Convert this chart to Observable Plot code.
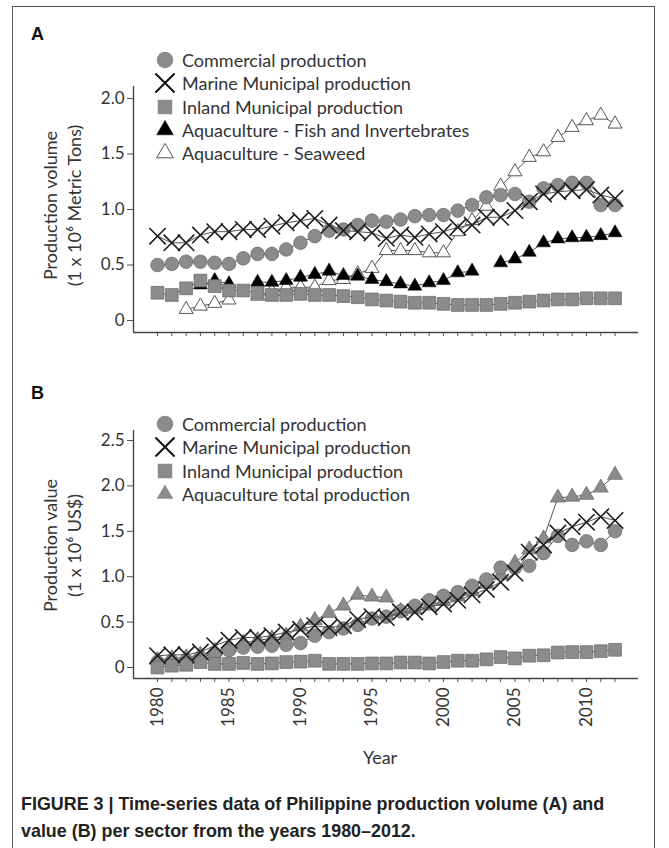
<!DOCTYPE html>
<html><head><meta charset="utf-8">
<script src="https://cdn.jsdelivr.net/npm/d3@7"></script>
<script src="https://cdn.jsdelivr.net/npm/@observablehq/plot@0.6"></script>
<style>
body{margin:0;background:#fff;}
#root{position:relative;width:669px;height:848px;overflow:hidden;font-family:Lato,sans-serif;background:#fff;}
.frame{position:absolute;left:12px;top:6px;width:643px;height:900px;border:1.5px solid #555;box-sizing:border-box;}
.plotA,.plotB{position:absolute;left:0;}
.plotA{top:40px;} .plotB{top:360px;}
.panel{position:absolute;left:31px;font:bold 18px "Liberation Sans",Arial,sans-serif;color:#111;line-height:1;}
.legrow{position:absolute;left:154px;height:22px;display:flex;align-items:center;font:18px Lato,sans-serif;color:#333;white-space:nowrap;}
.legrow svg{width:22px;height:22px;margin-right:6px;overflow:visible;}
.caption{position:absolute;left:21px;top:791px;font:bold 17.9px "Liberation Sans Narrow","Liberation Sans",Arial,sans-serif;line-height:27px;white-space:nowrap;color:#222;}
</style></head>
<body><div id="root"><div class="frame"></div></div>
<script>
// ---------- data ----------
const years = [1980,1981,1982,1983,1984,1985,1986,1987,1988,1989,1990,1991,1992,1993,1994,1995,1996,1997,1998,1999,2000,2001,2002,2003,2004,2005,2006,2007,2008,2009,2010,2011,2012];
const xTickLabels = [1980,1985,1990,1995,2000,2005,2010];
const yTicksA = [0,0.5,1,1.5,2];
const yTicksB = [0,0.5,1,1.5,2,2.5];

// Panel A: production volume (1 x 10^6 metric tons)
const volCommercial = [0.50,0.51,0.53,0.53,0.52,0.51, 0.56,0.60,0.60,0.64,0.70, 0.76,0.81,0.82,0.86,0.90, 0.89,0.91,0.94,0.95,0.95, 0.99,1.04,1.11,1.13,1.14, 1.07,1.19,1.22,1.24,1.24, 1.04,1.04];
const volMarine = [0.76,0.70,0.70,0.77,0.80,0.80, 0.82,0.82,0.85,0.88,0.90, 0.92,0.86,0.81,0.80,0.79, 0.74,0.77,0.75,0.78,0.80, 0.84,0.86,0.93,0.93,0.99, 1.07,1.14,1.16,1.17,1.18, 1.13,1.10];
const volInland = [0.25,0.23,0.29,0.36,0.31,0.27, 0.27,0.25,0.23,0.23,0.24, 0.23,0.23,0.22,0.21,0.19, 0.18,0.17,0.16,0.16,0.15, 0.14,0.14,0.14,0.15,0.16, 0.17,0.18,0.19,0.19,0.20, 0.20,0.20];
const volAquaFish = [null,null,null,0.32,0.36,0.33, null,0.345,0.345,0.36,0.39, 0.415,0.445,0.405,0.40,0.37, 0.35,0.33,0.31,0.34,0.36, 0.43,0.445,null,0.52,0.555, 0.615,0.70,0.735,0.745,0.75, 0.765,0.79];
const volAquaSeaweed = [null,null,0.10,0.13,0.155,0.185, null,0.22,0.26,0.30,0.30, 0.30,0.36,0.37,0.42,0.47, 0.63,0.63,0.63,0.61,0.61, 0.80,0.90,1.03,1.21,1.34, 1.47,1.52,1.65,1.74,1.80, 1.85,1.77];

// Panel B: production value (1 x 10^6 US$)
const valCommercial = [0.06,0.07,0.08,0.11,0.15,0.19, 0.22,0.23,0.24,0.25,0.27, 0.35,0.39,0.43,0.47,0.54, 0.56,0.62,0.68,0.74,0.79, 0.83,0.90,0.97,1.10,1.10, 1.12,1.26,1.45,1.35,1.39, 1.35,1.50];
const valMarine = [0.13,0.14,0.14,0.17,0.24,0.30, 0.33,0.33,0.35,0.39,0.42, 0.46,0.44,0.46,0.53,0.56, 0.55,0.61,0.61,0.67,0.70, 0.74,0.80,0.86,0.94,1.04, 1.27,1.35,1.48,1.55,1.60, 1.66,1.62];
const valInland = [0.00,0.02,0.03,0.06,0.04,0.04, 0.05,0.04,0.045,0.06,0.065, 0.075,0.04,0.04,0.04,0.045, 0.045,0.055,0.055,0.045,0.06, 0.075,0.075,0.09,0.115,0.10, 0.13,0.135,0.165,0.17,0.17, 0.18,0.195];
const valAquaTotal = [0.08,0.10,0.11,0.14,0.18,0.22, 0.27,0.30,0.32,0.35,0.45, 0.52,0.60,0.68,0.80,0.78, 0.77,0.62,0.64,0.68,0.73, 0.78,0.84,0.92,1.02,1.15, 1.30,1.42,1.87,1.88,1.90, 1.98,2.12];

const legendA = ["Commercial production","Marine Municipal production","Inland Municipal production","Aquaculture - Fish and Invertebrates","Aquaculture - Seaweed"];
const legendB = ["Commercial production","Marine Municipal production","Inland Municipal production","Aquaculture total production"];
const yLabelA = "Production volume\n(1 x 10\u2076 Metric Tons)";
const yLabelB = "Production value\n(1 x 10\u2076 US$)";
const xLabel = "Year";

// ---------- styles ----------
const GREY = "#8b8b8b", GREY_EDGE = "#666", LINE = "#555";
const styles = {
  circle:  {symbol:"circle",  r:6.8, fill:GREY, stroke:GREY_EDGE, strokeWidth:0.7},
  times:   {symbol:"times",   r:7.5, stroke:"#1e1e1e", strokeWidth:1.6},
  square:  {symbol:"square",  r:7.2, fill:GREY, stroke:GREY_EDGE, strokeWidth:0.7},
  triBlack:{symbol:"triangle",r:5.2, fill:"#000", stroke:"#000", strokeWidth:0.5},
  triWhite:{symbol:"triangle",r:5.2, fill:"#fff", stroke:"#555", strokeWidth:1},
  triGrey: {symbol:"triangle",r:5.6, fill:GREY, stroke:GREY_EDGE, strokeWidth:0.7}
};

const rows = arr => years.map((year,i) => ({year, value: arr[i] == null ? NaN : arr[i]}));
function seriesMarks(arr, st){
  const d = rows(arr);
  return [
    Plot.line(d, {x:"year", y:"value", stroke:LINE, strokeWidth:1}),
    Plot.dot(d.filter(r => !isNaN(r.value)), {x:"year", y:"value", ...st})
  ];
}

const xDomain = [1978.32, 2013.64];
const fmt = d => d === 0 ? "0" : d.toFixed(1);
const baseStyle = {fontFamily:"Lato, sans-serif", fontSize:"17px", color:"#333", background:"transparent", overflow:"visible"};

const plotA = Plot.plot({
  width:669, height:310, marginLeft:133, marginRight:31, marginTop:46, marginBottom:18,
  x:{domain:xDomain}, y:{domain:[-0.108, 2.108]},
  style:baseStyle,
  marks:[
    Plot.axisY({ticks:yTicksA, tickFormat:fmt, tickSize:6, tickPadding:3, fontSize:17, label:null, stroke:"#555"}),
    Plot.axisX({ticks:years, tickFormat:() => "", tickSize:4, label:null, stroke:"#555"}),
    Plot.ruleX([xDomain[0]], {stroke:"#444", strokeWidth:1.4}),
    Plot.ruleY([-0.108], {stroke:"#444", strokeWidth:1.4}),
    Plot.text([yLabelA], {text:d=>d, frameAnchor:"left", textAnchor:"middle", rotate:-90, dx:-72, dy:-4, fontSize:18, lineHeight:1.3, fill:"#333"}),
    ...seriesMarks(volAquaSeaweed, styles.triWhite),
    ...seriesMarks(volAquaFish, styles.triBlack),
    ...seriesMarks(volCommercial, styles.circle),
    ...seriesMarks(volMarine, styles.times),
    ...seriesMarks(volInland, styles.square)
  ]
});

const plotB = Plot.plot({
  width:669, height:430, marginLeft:133, marginRight:31, marginTop:70, marginBottom:112,
  x:{domain:xDomain}, y:{domain:[-0.121, 2.61]},
  style:baseStyle,
  marks:[
    Plot.axisY({ticks:yTicksB, tickFormat:fmt, tickSize:6, tickPadding:3, fontSize:17, label:null, stroke:"#555"}),
    Plot.axisX({ticks:years, tickFormat:d => xTickLabels.includes(d) ? String(d) : "", tickRotate:-90, tickSize:4, tickPadding:5, fontSize:17, label:null, stroke:"#555"}),
    Plot.ruleX([xDomain[0]], {stroke:"#444", strokeWidth:1.4}),
    Plot.ruleY([-0.121], {stroke:"#444", strokeWidth:1.4}),
    Plot.text([yLabelB], {text:d=>d, frameAnchor:"left", textAnchor:"middle", rotate:-90, dx:-72, dy:-9, fontSize:18, lineHeight:1.3, fill:"#333"}),
    Plot.text([xLabel], {text:d=>d, frameAnchor:"bottom", dx:-6, dy:85, fontSize:18, fill:"#333"}),
    ...seriesMarks(valAquaTotal, styles.triGrey),
    ...seriesMarks(valCommercial, styles.circle),
    ...seriesMarks(valInland, styles.square),
    ...seriesMarks(valMarine, styles.times)
  ]
});

const root = document.getElementById("root");
plotA.classList.add("plotA"); plotB.classList.add("plotB");
root.appendChild(plotA); root.appendChild(plotB);

// panel letters
for (const [t, top] of [["A",25],["B",384]]) {
  const el = document.createElement("div"); el.className = "panel"; el.textContent = t; el.style.top = top + "px"; root.appendChild(el);
}

// legends
const legSym = {
  circle:  {type:d3.symbolCircle, size:215, fill:GREY, stroke:"none"},
  times:   {type:d3.symbolTimes, size:240, fill:"none", stroke:"#111", sw:2},
  square:  {type:d3.symbolSquare, size:210, fill:GREY, stroke:"none"},
  triBlack:{type:d3.symbolTriangle, size:120, fill:"#000", stroke:"#000", sw:0.5},
  triWhite:{type:d3.symbolTriangle, size:120, fill:"#fff", stroke:"#555", sw:1},
  triGrey: {type:d3.symbolTriangle, size:120, fill:GREY, stroke:"none"}
};
function legend(labels, keys, top0){
  labels.forEach((lab,i) => {
    const s = legSym[keys[i]];
    const row = document.createElement("div");
    row.className = "legrow";
    row.style.top = (top0 + i*23.3 - 11) + "px";
    const path = d3.symbol().type(s.type).size(s.size)();
    row.innerHTML = `<svg viewBox="-11 -11 22 22"><path d="${path}" fill="${s.fill}" stroke="${s.stroke}" stroke-width="${s.sw||0}"/></svg><span>${lab}</span>`;
    root.appendChild(row);
  });
}
legend(legendA, ["circle","times","square","triBlack","triWhite"], 60);
legend(legendB, ["circle","times","square","triGrey"], 424);

const cap = document.createElement("div");
cap.className = "caption";
cap.innerHTML = "FIGURE 3 | Time-series data of Philippine production volume (A) and<br>value (B) per sector from the years 1980\u20132012.";
root.appendChild(cap);
</script>
</body></html>
